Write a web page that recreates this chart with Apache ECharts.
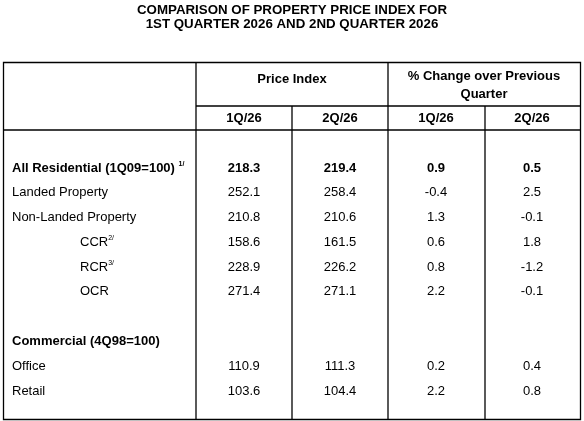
<!DOCTYPE html>
<html><head><meta charset="utf-8">
<script src="https://cdn.jsdelivr.net/npm/echarts@6/dist/echarts.min.js"></script>
<style>html,body{margin:0;padding:0;background:#fff}#c{width:584px;height:421px}</style>
</head><body><div id="c"></div>
<script>
var rowLabels = ['All Residential (1Q09=100)', 'Landed Property', 'Non-Landed Property', 'CCR', 'RCR', 'OCR', 'Commercial (4Q98=100)', 'Office', 'Retail'];
var rowSup = ['1/', '', '', '2/', '3/', '', '', '', ''];
var rowPos = [0, 1, 2, 3, 4, 5, 7, 8, 9];
var rowIndent = [0, 0, 0, 1, 1, 1, 0, 0, 0];
var rowBold = [1, 0, 0, 0, 0, 0, 1, 0, 0];
var pi1Q26 = [218.3, 252.1, 210.8, 158.6, 228.9, 271.4, null, 110.9, 103.6];
var pi2Q26 = [219.4, 258.4, 210.6, 161.5, 226.2, 271.1, null, 111.3, 104.4];
var ch1Q26 = [0.9, -0.4, 1.3, 0.6, 0.8, 2.2, null, 0.2, 2.2];
var ch2Q26 = [0.5, 2.5, -0.1, 1.8, -1.2, -0.1, null, 0.4, 0.8];
var colLabels = ['1Q/26', '2Q/26', '1Q/26', '2Q/26'];

var F = 'Liberation Sans, Arial, sans-serif';
var cols = [pi1Q26, pi2Q26, ch1Q26, ch2Q26];
var data = [];
rowLabels.forEach(function (l, i) {
  data.push([0, rowPos[i], 'L', i]);
  cols.forEach(function (c, j) {
    if (c[i] !== null) data.push([j + 1, rowPos[i], c[i].toFixed(1), i]);
  });
});

var chart = echarts.init(document.getElementById('c'));
var ln = function (x1, y1, x2, y2) { return { type: 'line', shape: { x1: x1, y1: y1, x2: x2, y2: y2 }, style: { stroke: '#000', lineWidth: 1.3 } }; };
var txt = function (x, y, t) { return { type: 'text', x: x, y: y, style: { text: t, font: 'bold 13px ' + F, fill: '#000', align: 'center', verticalAlign: 'middle' } }; };
var g = [
  { type: 'rect', shape: { x: 3.5, y: 62.5, width: 577, height: 357 }, style: { fill: 'none', stroke: '#000', lineWidth: 1.3 } },
  ln(196, 62, 196, 420), ln(388, 62, 388, 420),
  ln(292, 106, 292, 420), ln(485, 106, 485, 420),
  ln(196, 106, 581, 106), ln(3, 130, 581, 130),
  { type: 'text', x: 292, y: 10, style: { text: 'COMPARISON OF PROPERTY PRICE INDEX FOR', font: 'bold 13.3px ' + F, fill: '#000', align: 'center', verticalAlign: 'middle' } },
  { type: 'text', x: 292, y: 24, style: { text: '1ST QUARTER 2026 AND 2ND QUARTER 2026', font: 'bold 13.3px ' + F, fill: '#000', align: 'center', verticalAlign: 'middle' } },
  txt(292, 79, 'Price Index'), txt(484, 76, '% Change over Previous'), txt(484, 94, 'Quarter')
];
colLabels.forEach(function (c, j) { g.push(txt(244 + 96 * j, 118, c)); });

chart.setOption({
  animation: false,
  grid: { left: 148, width: 384, top: 168, height: 223 },
  xAxis: { type: 'value', min: 0, max: 4, show: false },
  yAxis: { type: 'value', min: 0, max: 9, inverse: true, show: false },
  graphic: g,
  series: [{
    type: 'custom', coordinateSystem: 'cartesian2d', data: data,
    renderItem: function (params, api) {
      var x = api.value(0), i = api.value(3);
      var p = api.coord([x, api.value(1)]);
      var bold = rowBold[i] ? 'bold ' : '';
      if (x === 0) {
        var sup = rowSup[i];
        return { type: 'text', x: 12 + (rowIndent[i] ? 68 : 0), y: p[1], style: {
          text: rowLabels[i] + (sup ? (rowIndent[i] ? '{s|' + sup + '}' : ' {s|' + sup + '}') : ''),
          font: bold + '13px ' + F, fill: '#000', align: 'left', verticalAlign: 'middle',
          rich: { s: { fontSize: 7, fontFamily: F, fontWeight: bold ? 'bold' : 'normal', verticalAlign: 'top', padding: [0, 0, 8, 0] } }
        } };
      }
      return { type: 'text', x: p[0], y: p[1], style: { text: api.value(2), font: bold + '13px ' + F, fill: '#000', align: 'center', verticalAlign: 'middle' } };
    }
  }]
});
</script></body></html>
